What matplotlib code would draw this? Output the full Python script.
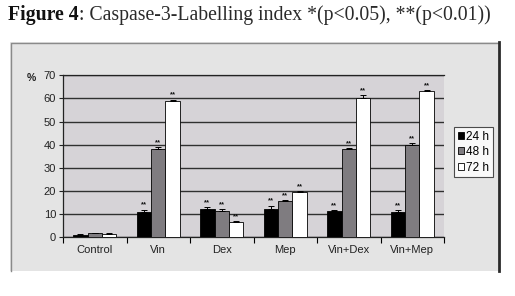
import numpy as np
import matplotlib.pyplot as plt
from matplotlib.patches import Rectangle, Patch
from matplotlib.lines import Line2D

# data (%)
groups = ['Control', 'Vin', 'Dex', 'Mep', 'Vin+Dex', 'Vin+Mep']
series = ['24 h', '48 h', '72 h']
h24 = [1.0, 10.7, 12.3, 12.0, 11.1, 10.7]
h48 = [1.6, 38.2, 11.1, 15.6, 37.9, 39.8]
h72 = [1.4, 58.8, 6.4, 19.3, 60.3, 63.1]
err24 = [0.3, 1.2, 0.5, 1.5, 0.4, 0.8]
err48 = [0.3, 0.8, 1.0, 0.4, 0.6, 0.8]
err72 = [0.2, 0.6, 0.5, 0.4, 1.0, 0.5]
stars24 = ['', '**', '**', '**', '**', '**']
stars48 = ['', '**', '**', '**', '**', '**']
stars72 = ['', '**', '**', '**', '**', '**']

colors = ['#000000', '#7f7c80', '#ffffff']

plt.rcParams['font.family'] = ['Liberation Sans', 'DejaVu Sans']

W, H = 515, 296
fig = plt.figure(figsize=(W / 100, H / 100), dpi=100)

# pixel coords (from top-left) -> figure fraction
def fx(px):
    return px / W

def fy(py):
    return 1 - py / H

# grey panel behind chart
fig.patches.append(Rectangle((fx(10), fy(271)), fx(499) - fx(10), fy(42) - fy(271),
                             transform=fig.transFigure, facecolor='#e4e4e4',
                             edgecolor='none', zorder=-2))
fig.lines.append(Line2D([fx(10.5), fx(10.5), fx(498)], [fy(271), fy(42.5), fy(42.5)],
                        transform=fig.transFigure, color='#8a8a8a', lw=1, zorder=-1))
fig.lines.append(Line2D([fx(498.5), fx(498.5)], [fy(42), fy(271)],
                        transform=fig.transFigure, color='#2a2a2a', lw=2, zorder=-1))

# title, in two parts (bold label + plain text)
t1 = fig.text(fx(8), fy(15), 'Figure 4', fontfamily='Liberation Serif', fontweight='bold',
              fontsize=14.2, va='center', ha='left', color='#111111')
r = fig.canvas.get_renderer()
bb = t1.get_window_extent(renderer=r)
fig.text(bb.x1 / W, fy(15), ': Caspase-3-Labelling index *(p<0.05), **(p<0.01))',
         fontfamily='Liberation Serif', fontsize=14.2, va='center', ha='left', color='#2a2a2a')

ax = fig.add_axes([fx(63), fy(237), fx(444) - fx(63), fy(75.3) - fy(237)])
ax.set_zorder(1)
ax.set_facecolor('#d6d3d7')

x = np.arange(len(groups))
bw = 0.225
data = [(h24, err24, stars24), (h48, err48, stars48), (h72, err72, stars72)]
for i, (vals, errs, stars) in enumerate(data):
    pos = x + (i - 1) * bw
    ax.bar(pos, vals, width=bw, color=colors[i], edgecolor='black', linewidth=0.6,
           label=series[i], zorder=3)
    ax.errorbar(pos, vals, yerr=[np.zeros(len(errs)), errs], fmt='none', ecolor='black',
                elinewidth=0.7, capsize=2, capthick=0.7, zorder=4)
    for p, v, e, s in zip(pos, vals, errs, stars):
        if s:
            ax.text(p, v + e + 0.5, s, ha='center', va='bottom', fontsize=5.5,
                    fontweight='bold', color='#111111')

ax.set_xlim(-0.5, len(groups) - 0.5)
ax.set_ylim(0, 70)
ax.set_yticks(np.arange(0, 71, 10))
ax.yaxis.grid(True, color='#303030', lw=1)
ax.set_axisbelow(True)
ax.tick_params(axis='y', labelsize=8, length=3, width=0.8, colors='#222222', pad=2)

ax.set_xticks(np.arange(-0.5, len(groups), 1))
ax.set_xticklabels([])
ax.set_xticks(x, minor=True)
ax.set_xticklabels(groups, minor=True)
ax.tick_params(axis='x', which='major', length=4, width=0.8, direction='out')
ax.tick_params(axis='x', which='minor', length=0, labelsize=8, pad=6, colors='#222222')

for side in ['left', 'bottom', 'top']:
    ax.spines[side].set_color('#222222')
    ax.spines[side].set_linewidth(0.9)
ax.spines['right'].set_visible(False)

fig.text(fx(31), fy(78), '%', fontsize=7.5, fontweight='bold', ha='center', va='center',
         color='#222222')

handles = [Patch(facecolor=c, edgecolor='black', linewidth=0.6) for c in colors]
leg = fig.legend(handles, series, loc='upper left',
                 bbox_to_anchor=(fx(454), fy(127)), bbox_transform=fig.transFigure,
                 fontsize=8.5, frameon=True, fancybox=False, handlelength=0.55,
                 handleheight=0.55, handletextpad=0.2, borderpad=0.3,
                 labelspacing=0.3, borderaxespad=0)
leg.get_frame().set_edgecolor('#222222')
leg.get_frame().set_linewidth(0.8)
leg.set_zorder(2)

fig.savefig('out.png', dpi=100)
